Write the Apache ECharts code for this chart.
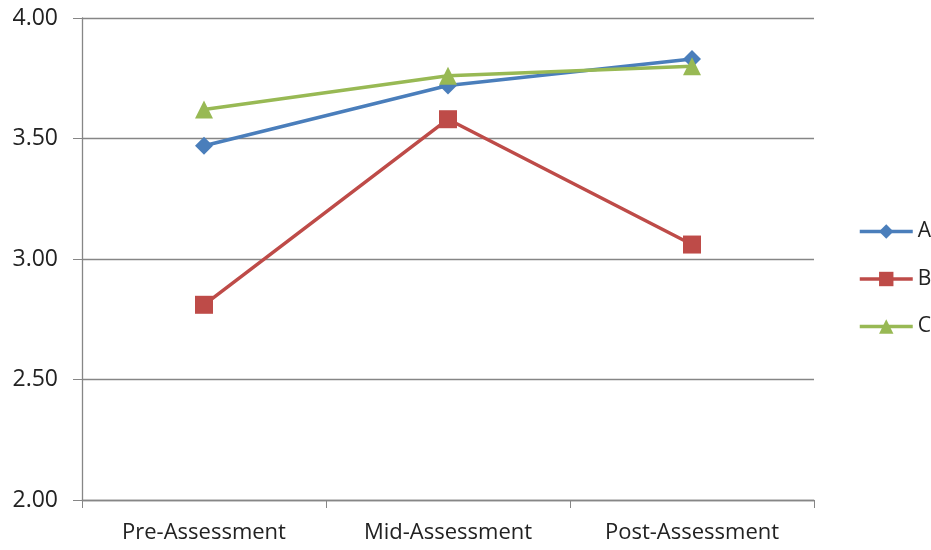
<!DOCTYPE html>
<html><head><meta charset="utf-8">
<script src="https://cdn.jsdelivr.net/npm/echarts@6/dist/echarts.min.js"></script>
<style>html,body{margin:0;padding:0;background:#fff}#c{width:931px;height:550px}</style>
</head><body><div id="c"></div>
<script>
const categories = ['Pre-Assessment', 'Mid-Assessment', 'Post-Assessment'];
const seriesA = [3.47, 3.72, 3.83];
const seriesB = [2.81, 3.58, 3.06];
const seriesC = [3.62, 3.76, 3.80];
const yTicks = { min: 2, max: 4, interval: 0.5 };

const chart = echarts.init(document.getElementById('c'));
const font = 'Open Sans';
chart.setOption({
  animation: false,
  grid: { left: 82, right: 117, top: 18, bottom: 50, containLabel: false },
  legend: {
    orient: 'vertical', left: 853, top: 216, itemGap: 26.5,
    itemWidth: 53, itemHeight: 18,
    lineStyle: { width: 3.5 },
    textStyle: { fontFamily: font, fontSize: 21, color: '#222' },
    data: ['A', 'B', 'C']
  },
  xAxis: {
    type: 'category', data: categories, boundaryGap: true,
    axisLine: { lineStyle: { color: '#868686', width: 1.3 } },
    axisTick: { show: true, length: 8, lineStyle: { color: '#868686' } },
    axisLabel: { fontFamily: font, fontSize: 22, color: '#222', margin: 22 }
  },
  yAxis: {
    type: 'value', min: yTicks.min, max: yTicks.max, interval: yTicks.interval,
    axisLine: { show: true, lineStyle: { color: '#868686', width: 1.3 } },
    axisTick: { show: true, length: 9, lineStyle: { color: '#868686' } },
    splitLine: { lineStyle: { color: '#868686', width: 1.3 } },
    axisLabel: { fontFamily: font, fontSize: 23, color: '#222', margin: 24,
      formatter: v => v.toFixed(2) }
  },
  series: [
    { name: 'A', type: 'line', data: seriesA, symbol: 'diamond', symbolSize: 18,
      lineStyle: { color: '#4A7EBB', width: 3.5 }, itemStyle: { color: '#4A7EBB' } },
    { name: 'B', type: 'line', data: seriesB, symbol: 'rect', symbolSize: 18,
      lineStyle: { color: '#BE4B48', width: 3.5 }, itemStyle: { color: '#BE4B48' } },
    { name: 'C', type: 'line', data: seriesC, symbol: 'triangle', symbolSize: 18,
      lineStyle: { color: '#98B954', width: 3.5 }, itemStyle: { color: '#98B954' } }
  ]
});
</script></body></html>
